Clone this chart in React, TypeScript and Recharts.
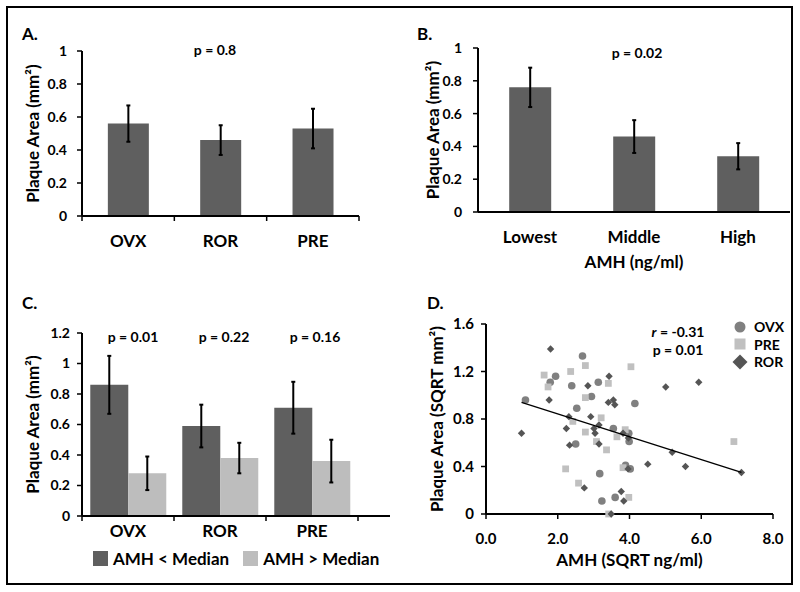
import React from "react";
import {
  BarChart,
  Bar,
  XAxis,
  YAxis,
  ErrorBar,
  Legend,
  ScatterChart,
  Scatter,
} from "recharts";

const FONT = "Lato, 'Open Sans', sans-serif";
const DARK = "#5f5f5f";
const LIGHT = "#bdbdbd";
const OVX_FILL = "#808080";
const PRE_FILL = "#c0c0c0";
const ROR_FILL = "#555555";

// A. plaque area per group
const groups = ["OVX", "ROR", "PRE"];
const groupMeans = [0.56, 0.46, 0.53];
const groupErrors = [0.11, 0.09, 0.12];

// B. plaque area per AMH tertile
const tertiles = ["Lowest", "Middle", "High"];
const tertileMeans = [0.76, 0.46, 0.34];
const tertileErrors = [0.12, 0.1, 0.08];

// C. split at AMH median
const belowMeans = [0.86, 0.59, 0.71];
const belowErrors = [0.19, 0.14, 0.17];
const aboveMeans = [0.28, 0.38, 0.36];
const aboveErrors = [0.11, 0.1, 0.14];
const medianP = ["p = 0.01", "p = 0.22", "p = 0.16"];

// D. individual animals
const ovxAmh = [1.1, 1.79, 1.94, 2.39, 2.69, 2.53, 2.94, 3.13, 2.5, 3.17, 3.23, 3.55, 3.6, 4.15, 3.98, 3.99, 3.89, 4.02];
const ovxPlaque = [0.96, 1.11, 1.16, 1.08, 1.33, 0.89, 0.99, 1.11, 0.59, 0.34, 0.11, 0.72, 0.14, 0.93, 0.68, 0.61, 0.41, 0.38];
const preAmh = [1.62, 1.73, 2.36, 2.77, 2.77, 3.41, 4.04, 2.42, 3.21, 2.77, 3.08, 3.36, 3.65, 3.88, 3.82, 2.22, 2.58, 3.42, 3.98, 6.91];
const prePlaque = [1.17, 1.07, 1.2, 1.25, 0.98, 1.1, 1.24, 0.78, 0.81, 0.69, 0.61, 0.54, 0.65, 0.71, 0.39, 0.38, 0.26, 0.0, 0.14, 0.61];
const rorAmh = [0.99, 1.8, 1.76, 2.31, 2.24, 2.33, 2.84, 2.92, 3.01, 3.04, 3.15, 3.15, 3.43, 3.41, 3.55, 3.59, 3.82, 3.97, 3.96, 2.74, 3.77, 3.84, 3.49, 4.51, 5.19, 5.56, 5.01, 5.93, 7.12];
const rorPlaque = [0.68, 1.39, 0.96, 0.82, 0.72, 0.58, 1.08, 0.82, 0.72, 0.68, 0.75, 0.59, 1.16, 0.94, 0.96, 0.92, 0.68, 0.64, 0.38, 0.22, 0.19, 0.11, 0.0, 0.42, 0.52, 0.4, 1.07, 1.11, 0.35];
const fitAmh = [0.99, 7.12];
const fitPlaque = [0.94, 0.35];

const barTicks = [0, 0.2, 0.4, 0.6, 0.8, 1];
const barTicksC = [0, 0.2, 0.4, 0.6, 0.8, 1, 1.2];
const scatterXTicks = [0, 2, 4, 6, 8];
const scatterYTicks = [0, 0.4, 0.8, 1.2, 1.6];

const panelA = groups.map((g, i) => ({ name: g, mean: groupMeans[i], err: groupErrors[i] }));
const panelB = tertiles.map((t, i) => ({ name: t, mean: tertileMeans[i], err: tertileErrors[i] }));
const panelC = groups.map((g, i) => ({
  name: g,
  below: belowMeans[i],
  belowErr: belowErrors[i],
  above: aboveMeans[i],
  aboveErr: aboveErrors[i],
}));
const toPoints = (xs: number[], ys: number[]) => xs.map((x, i) => ({ x, y: ys[i] }));
const ovxPts = toPoints(ovxAmh, ovxPlaque);
const prePts = toPoints(preAmh, prePlaque);
const rorPts = toPoints(rorAmh, rorPlaque);
const fitPts = toPoints(fitAmh, fitPlaque);

const tickFont = { fill: "#000", fontSize: 14, fontWeight: 700, fontFamily: FONT };
const catFont = { fill: "#000", fontSize: 17, fontWeight: 700, fontFamily: FONT };
const titleFont: any = { fill: "#000", fontSize: 17, fontWeight: 700, fontFamily: FONT, textAnchor: "middle" };

const axisProps = { stroke: "#000", strokeWidth: 2 };

// category label plus Excel-style marks between the categories
const makeCatTick = (gap: number, marks: boolean) => (props: any) => {
  const { x, y, payload, index, visibleTicksCount } = props;
  const half = payload && typeof payload.offset === "number" ? payload.offset : 0;
  const axisY = y - gap;
  return (
    <g>
      {marks && half > 0 && (
        <line x1={x - half} x2={x - half} y1={axisY} y2={axisY + 5} stroke="#000" strokeWidth={1.5} />
      )}
      {marks && half > 0 && index === visibleTicksCount - 1 && (
        <line x1={x + half} x2={x + half} y1={axisY} y2={axisY + 5} stroke="#000" strokeWidth={1.5} />
      )}
      <text x={x} y={y} dy="0.71em" textAnchor="middle" {...catFont}>
        {payload.value}
      </text>
    </g>
  );
};

const Note = ({ x, y, size = 14, left = false, children }: any) => (
  <div
    style={{
      position: "absolute",
      left: x,
      top: y,
      transform: left ? "translate(0,-50%)" : "translate(-50%,-50%)",
      fontFamily: FONT,
      fontWeight: 700,
      fontSize: size,
      whiteSpace: "nowrap",
      lineHeight: 1,
      color: "#000",
    }}
  >
    {children}
  </div>
);

const Circle = (p: any) => <circle cx={p.cx} cy={p.cy} r={3.8} fill={OVX_FILL} />;
const Square = (p: any) => <rect x={p.cx - 3.4} y={p.cy - 3.4} width={6.8} height={6.8} fill={PRE_FILL} />;
const Diamond = (p: any) => (
  <polygon
    points={`${p.cx},${p.cy - 3.7} ${p.cx + 3.7},${p.cy} ${p.cx},${p.cy + 3.7} ${p.cx - 3.7},${p.cy}`}
    fill={ROR_FILL}
  />
);
const NoDot = () => <g />;

const legendC = () => (
  <div style={{ display: "flex", alignItems: "center", fontFamily: FONT, fontWeight: 700, fontSize: 17, color: "#000" }}>
    <span style={{ width: 15, height: 15, background: DARK, marginRight: 5 }} />
    <span style={{ marginRight: 14 }}>AMH &lt; Median</span>
    <span style={{ width: 15, height: 15, background: LIGHT, marginRight: 5 }} />
    <span>AMH &gt; Median</span>
  </div>
);

const legendD = () => (
  <div style={{ fontFamily: FONT, fontWeight: 700, fontSize: 14, color: "#000", lineHeight: "17.5px" }}>
    <div style={{ display: "flex", alignItems: "center" }}>
      <svg width={16} height={16} style={{ marginRight: 6 }}>
        <circle cx={8} cy={8} r={5.5} fill={OVX_FILL} />
      </svg>
      OVX
    </div>
    <div style={{ display: "flex", alignItems: "center" }}>
      <svg width={16} height={16} style={{ marginRight: 6 }}>
        <rect x={2.5} y={2.5} width={11} height={11} fill={PRE_FILL} />
      </svg>
      PRE
    </div>
    <div style={{ display: "flex", alignItems: "center" }}>
      <svg width={16} height={16} style={{ marginRight: 6 }}>
        <polygon points="8,0.5 15.5,8 8,15.5 0.5,8" fill={ROR_FILL} />
      </svg>
      ROR
    </div>
  </div>
);

export default function App() {
  return (
    <div
      style={{
        position: "absolute",
        left: 0,
        top: 0,
        width: 800,
        height: 592,
        background: "#fff",
        overflow: "hidden",
      }}
    >
      <div
        style={{
          position: "absolute",
          left: 6,
          top: 6,
          width: 783,
          height: 575,
          border: "2px solid #000",
        }}
      />

      {/* A */}
      <div style={{ position: "absolute", left: 0, top: 0 }}>
        <BarChart width={400} height={290} data={panelA} margin={{ top: 51, right: 41, bottom: 34, left: 10 }} barCategoryGap="28%">
          <XAxis
            dataKey="name"
            height={40}
            tick={makeCatTick(19, true)}
            tickLine={false}
            tickSize={6}
            tickMargin={13}
            axisLine={axisProps}
          />
          <YAxis
            width={72}
            domain={[0, 1]}
            ticks={barTicks}
            tick={tickFont}
            tickSize={5}
            tickMargin={10}
            axisLine={axisProps}
            tickLine={{ stroke: "#000", strokeWidth: 1.5 }}
            label={{ value: "Plaque Area (mm²)", angle: -90, position: "insideLeft", offset: 23, style: titleFont }}
          />
          <Bar dataKey="mean" fill={DARK} isAnimationActive={false}>
            <ErrorBar dataKey="err" width={2} stroke="#000" strokeWidth={2} />
          </Bar>
        </BarChart>
      </div>

      {/* B */}
      <div style={{ position: "absolute", left: 400, top: 0 }}>
        <BarChart width={400} height={290} data={panelB} margin={{ top: 48, right: 10, bottom: 18, left: 10 }} barCategoryGap="30%">
          <XAxis
            dataKey="name"
            height={60}
            tick={makeCatTick(19, false)}
            tickLine={false}
            tickSize={6}
            tickMargin={13}
            axisLine={axisProps}
            label={{ value: "AMH (ng/ml)", position: "insideBottom", offset: 4, style: titleFont }}
          />
          <YAxis
            width={68}
            domain={[0, 1]}
            ticks={barTicks}
            tick={tickFont}
            tickSize={5}
            tickMargin={11}
            axisLine={axisProps}
            tickLine={{ stroke: "#000", strokeWidth: 1.5 }}
            label={{ value: "Plaque Area (mm²)", angle: -90, position: "insideLeft", offset: 23, style: titleFont }}
          />
          <Bar dataKey="mean" fill={DARK} isAnimationActive={false}>
            <ErrorBar dataKey="err" width={2} stroke="#000" strokeWidth={2} />
          </Bar>
        </BarChart>
      </div>

      {/* C */}
      <div style={{ position: "absolute", left: 0, top: 290 }}>
        <BarChart width={400} height={302} data={panelC} margin={{ top: 43, right: 10, bottom: 46, left: 10 }} barCategoryGap="9%" barGap={0}>
          <XAxis
            dataKey="name"
            height={30}
            tick={makeCatTick(9, true)}
            tickLine={false}
            tickSize={6}
            tickMargin={3}
            axisLine={axisProps}
            padding={{ left: 0, right: 32 }}
          />
          <YAxis
            width={72}
            domain={[0, 1.2]}
            ticks={barTicksC}
            tick={tickFont}
            tickSize={5}
            tickMargin={7}
            axisLine={axisProps}
            tickLine={{ stroke: "#000", strokeWidth: 1.5 }}
            label={{ value: "Plaque Area (mm²)", angle: -90, position: "insideLeft", offset: 23, style: titleFont }}
          />
          <Bar dataKey="below" fill={DARK} isAnimationActive={false}>
            <ErrorBar dataKey="belowErr" width={2} stroke="#000" strokeWidth={2} />
          </Bar>
          <Bar dataKey="above" fill={LIGHT} isAnimationActive={false}>
            <ErrorBar dataKey="aboveErr" width={2} stroke="#000" strokeWidth={2} />
          </Bar>
          <Legend
            layout="horizontal"
            verticalAlign="middle"
            align="center"
            content={legendC}
            wrapperStyle={{ top: 258, left: 93, width: 300 }}
          />
        </BarChart>
      </div>

      {/* D */}
      <div style={{ position: "absolute", left: 400, top: 290 }}>
        <ScatterChart width={400} height={302} margin={{ top: 34, right: 27, bottom: 22, left: 10 }}>
          <XAxis
            type="number"
            dataKey="x"
            domain={[0, 8]}
            ticks={scatterXTicks}
            tickFormatter={(v: number) => v.toFixed(1)}
            height={56}
            tick={{ ...tickFont, fontSize: 15 }}
            tickSize={5}
            tickMargin={14}
            axisLine={axisProps}
            tickLine={{ stroke: "#000", strokeWidth: 1.5 }}
            label={{ value: "AMH (SQRT ng/ml)", position: "insideBottom", offset: 4, style: titleFont }}
          />
          <YAxis
            type="number"
            dataKey="y"
            width={76}
            domain={[0, 1.6]}
            ticks={scatterYTicks}
            tickFormatter={(v: number) => (v === 0 ? "0" : v.toFixed(1))}
            tick={{ ...tickFont, fontSize: 15 }}
            tickSize={5}
            tickMargin={7}
            axisLine={axisProps}
            tickLine={{ stroke: "#000", strokeWidth: 1.5 }}
            label={{ value: "Plaque Area (SQRT mm²)", angle: -90, position: "insideLeft", offset: 27, style: titleFont }}
          />
          <Scatter name="OVX" data={ovxPts} shape={Circle} isAnimationActive={false} />
          <Scatter name="PRE" data={prePts} shape={Square} isAnimationActive={false} />
          <Scatter name="ROR" data={rorPts} shape={Diamond} isAnimationActive={false} />
          <Scatter
            name="fit"
            data={fitPts}
            shape={NoDot}
            line={{ stroke: "#000", strokeWidth: 1.3 }}
            legendType="none"
            isAnimationActive={false}
          />
          <Legend
            layout="horizontal"
            verticalAlign="middle"
            align="center"
            content={legendD}
            wrapperStyle={{ top: 28, left: 332, width: 60 }}
          />
        </ScatterChart>
      </div>

      <Note x={22} y={33} size={17} left>A.</Note>
      <Note x={215} y={50}>p = 0.8</Note>
      <Note x={417} y={33} size={17} left>B.</Note>
      <Note x={637} y={53}>p = 0.02</Note>
      <Note x={22} y={302} size={17} left>C.</Note>
      {medianP.map((p, i) => (
        <Note key={p} x={[133, 224, 315][i]} y={337}>
          {p}
        </Note>
      ))}
      <Note x={427} y={302} size={17} left>D.</Note>
      <Note x={678} y={332}>
        <i>r</i> = -0.31
      </Note>
      <Note x={678} y={350}>p = 0.01</Note>
    </div>
  );
}
